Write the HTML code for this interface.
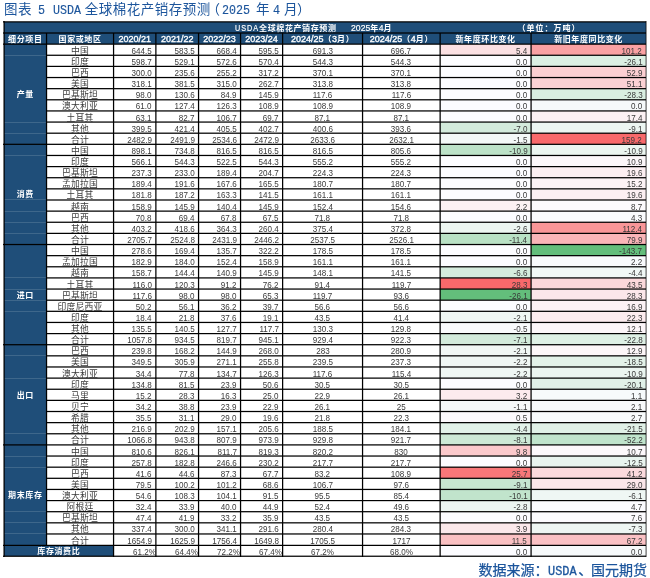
<!DOCTYPE html>
<html lang="zh-CN"><head><meta charset="utf-8"><title>USDA 全球棉花产销存预测</title>
<style>
html,body{margin:0;padding:0;background:#fff}
body{width:650px;height:578px;position:relative;overflow:hidden;font-family:"Liberation Sans","Noto Sans CJK SC",sans-serif}
.b,.t,.hl,.vl,.fl{position:absolute}
.hl{height:1px;background:#000}
.vl{width:1px;background:#000}
.fl{height:1px;background:rgba(255,255,255,.14)}
.t{font-size:9.5px;color:#3a3a3a;white-space:nowrap;box-sizing:border-box;overflow:visible}
.t span{display:inline-block;position:relative;top:1px}
.c{text-align:center}
.r{text-align:right;padding-right:3.9px}
.n span{transform:scaleX(.85);transform-origin:100% 50%}
.c.n span{transform-origin:50% 50%}
.r.p{padding-right:.4px}
.cj{font-size:8.8px;letter-spacing:.25px}
.cj span{top:2px}
.h{color:#fff;font-weight:bold;font-size:8px;letter-spacing:.6px}
.h span{top:1px}
.sec span{top:1px}
.h1 span{position:static;display:block}
.h1 i{position:absolute;font-style:normal;top:1.1px}
.h em{font-style:normal;font-weight:normal;font-size:9px;letter-spacing:0;-webkit-text-stroke:.35px #fff}
.h1 em{font-style:normal;font-weight:normal;font-size:8.6px;letter-spacing:0;-webkit-text-stroke:.2px #fff}
.h1 em.u{display:inline-block;font-size:9px;letter-spacing:1.3px;transform:scaleX(.8);transform-origin:0 50%}
#title,#foot{position:absolute;left:0;width:650px;white-space:nowrap;color:#1c559c;font-family:"Liberation Sans","Noto Sans CJK SC",sans-serif}
#title{top:-0.4px;height:19px;line-height:19px;font-size:13.5px;letter-spacing:.5px}
#foot{top:561px;height:19px;line-height:19px;font-size:14px;font-weight:400;-webkit-text-stroke:.25px #1c559c}
.s{position:absolute;top:0}
.s.l{font-family:"Liberation Mono",monospace;font-size:12.6px;letter-spacing:0;top:2.4px;transform:scaleX(.926);transform-origin:0 50%;-webkit-text-stroke:.15px #1c559c}
#foot .s.l{font-size:13.5px;transform:scaleX(.88);top:1px;-webkit-text-stroke:.35px #1c559c}
#wrap{position:absolute;left:0;top:0;width:650px;height:578px;will-change:transform}
</style></head><body><div id="wrap">
<div id="title"><span class="s " style="left:4px">图表</span><span class="s l" style="left:38.3px">5</span><span class="s l" style="left:52.5px">USDA</span><span class="s " style="left:84.7px">全球棉花产销存预测</span><span class="s " style="left:206.5px">（</span><span class="s l" style="left:222px">2025</span><span class="s " style="left:256px">年</span><span class="s l" style="left:273px">4</span><span class="s " style="left:284px">月</span><span class="s " style="left:297px">）</span></div>
<div class="b" style="left:4.10px;top:21.87px;width:642.00px;height:22.27px;background:#1f4e79"></div>
<div class="b" style="left:4.10px;top:44.14px;width:42.45px;height:501.26px;background:#1f4e79"></div>
<div class="b" style="left:4.10px;top:545.40px;width:109.46px;height:10.83px;background:#1f4e79"></div>
<div class="b" style="left:440.14px;top:44.14px;width:90.93px;height:11.13px;background:#fbe0e3"></div>
<div class="b" style="left:531.07px;top:44.14px;width:115.03px;height:11.13px;background:#faa1a3"></div>
<div class="b" style="left:440.14px;top:55.27px;width:90.93px;height:11.13px;background:#fcfcff"></div>
<div class="b" style="left:531.07px;top:55.27px;width:115.03px;height:11.13px;background:#dbefe3"></div>
<div class="b" style="left:440.14px;top:66.40px;width:90.93px;height:11.13px;background:#fcfcff"></div>
<div class="b" style="left:531.07px;top:66.40px;width:115.03px;height:11.13px;background:#fbcfd2"></div>
<div class="b" style="left:440.14px;top:77.53px;width:90.93px;height:11.13px;background:#fcfcff"></div>
<div class="b" style="left:531.07px;top:77.53px;width:115.03px;height:11.13px;background:#fbd1d4"></div>
<div class="b" style="left:440.14px;top:88.67px;width:90.93px;height:11.13px;background:#fcfcff"></div>
<div class="b" style="left:531.07px;top:88.67px;width:115.03px;height:11.13px;background:#d9eee1"></div>
<div class="b" style="left:440.14px;top:99.80px;width:90.93px;height:11.13px;background:#fcfcff"></div>
<div class="b" style="left:531.07px;top:99.80px;width:115.03px;height:11.13px;background:#f6f9fa"></div>
<div class="b" style="left:440.14px;top:110.93px;width:90.93px;height:11.13px;background:#fcfcff"></div>
<div class="b" style="left:531.07px;top:110.93px;width:115.03px;height:11.13px;background:#fcf1f4"></div>
<div class="b" style="left:440.14px;top:122.06px;width:90.93px;height:11.13px;background:#d3ebdc"></div>
<div class="b" style="left:531.07px;top:122.06px;width:115.03px;height:11.13px;background:#ecf6f2"></div>
<div class="b" style="left:440.14px;top:133.19px;width:90.93px;height:11.13px;background:#f3f8f7"></div>
<div class="b" style="left:531.07px;top:133.19px;width:115.03px;height:11.13px;background:#f8696b"></div>
<div class="b" style="left:440.14px;top:144.33px;width:90.93px;height:11.13px;background:#bce2c8"></div>
<div class="b" style="left:531.07px;top:144.33px;width:115.03px;height:11.13px;background:#ebf5f0"></div>
<div class="b" style="left:440.14px;top:155.46px;width:90.93px;height:11.13px;background:#fcfcff"></div>
<div class="b" style="left:531.07px;top:155.46px;width:115.03px;height:11.13px;background:#fcf7fa"></div>
<div class="b" style="left:440.14px;top:166.59px;width:90.93px;height:11.13px;background:#fcfcff"></div>
<div class="b" style="left:531.07px;top:166.59px;width:115.03px;height:11.13px;background:#fceff2"></div>
<div class="b" style="left:440.14px;top:177.73px;width:90.93px;height:11.13px;background:#fcfcff"></div>
<div class="b" style="left:531.07px;top:177.73px;width:115.03px;height:11.13px;background:#fcf3f6"></div>
<div class="b" style="left:440.14px;top:188.86px;width:90.93px;height:11.13px;background:#fcfcff"></div>
<div class="b" style="left:531.07px;top:188.86px;width:115.03px;height:11.13px;background:#fceff2"></div>
<div class="b" style="left:440.14px;top:199.99px;width:90.93px;height:11.13px;background:#fcf1f3"></div>
<div class="b" style="left:531.07px;top:199.99px;width:115.03px;height:11.13px;background:#fcfafd"></div>
<div class="b" style="left:440.14px;top:211.12px;width:90.93px;height:11.13px;background:#fcfcff"></div>
<div class="b" style="left:531.07px;top:211.12px;width:115.03px;height:11.13px;background:#fafbfd"></div>
<div class="b" style="left:440.14px;top:222.25px;width:90.93px;height:11.13px;background:#edf6f2"></div>
<div class="b" style="left:531.07px;top:222.25px;width:115.03px;height:11.13px;background:#f99698"></div>
<div class="b" style="left:440.14px;top:233.39px;width:90.93px;height:11.13px;background:#b9e1c5"></div>
<div class="b" style="left:531.07px;top:233.39px;width:115.03px;height:11.13px;background:#fab5b8"></div>
<div class="b" style="left:440.14px;top:244.52px;width:90.93px;height:11.13px;background:#fcfcff"></div>
<div class="b" style="left:531.07px;top:244.52px;width:115.03px;height:11.13px;background:#63be7b"></div>
<div class="b" style="left:440.14px;top:255.65px;width:90.93px;height:11.13px;background:#fcfcff"></div>
<div class="b" style="left:531.07px;top:255.65px;width:115.03px;height:11.13px;background:#f8fafc"></div>
<div class="b" style="left:440.14px;top:266.79px;width:90.93px;height:11.13px;background:#d5ecde"></div>
<div class="b" style="left:531.07px;top:266.79px;width:115.03px;height:11.13px;background:#f1f8f6"></div>
<div class="b" style="left:440.14px;top:277.92px;width:90.93px;height:11.13px;background:#f8696b"></div>
<div class="b" style="left:531.07px;top:277.92px;width:115.03px;height:11.13px;background:#fbd8db"></div>
<div class="b" style="left:440.14px;top:289.05px;width:90.93px;height:11.13px;background:#63be7b"></div>
<div class="b" style="left:531.07px;top:289.05px;width:115.03px;height:11.13px;background:#fbe7ea"></div>
<div class="b" style="left:440.14px;top:300.18px;width:90.93px;height:11.13px;background:#fcfcff"></div>
<div class="b" style="left:531.07px;top:300.18px;width:115.03px;height:11.13px;background:#fcf2f5"></div>
<div class="b" style="left:440.14px;top:311.31px;width:90.93px;height:11.13px;background:#f0f7f4"></div>
<div class="b" style="left:531.07px;top:311.31px;width:115.03px;height:11.13px;background:#fcecef"></div>
<div class="b" style="left:440.14px;top:322.45px;width:90.93px;height:11.13px;background:#f9fbfc"></div>
<div class="b" style="left:531.07px;top:322.45px;width:115.03px;height:11.13px;background:#fcf6f9"></div>
<div class="b" style="left:440.14px;top:333.58px;width:90.93px;height:11.13px;background:#d2ebdb"></div>
<div class="b" style="left:531.07px;top:333.58px;width:115.03px;height:11.13px;background:#def0e5"></div>
<div class="b" style="left:440.14px;top:344.71px;width:90.93px;height:11.13px;background:#f0f7f4"></div>
<div class="b" style="left:531.07px;top:344.71px;width:115.03px;height:11.13px;background:#fcf6f8"></div>
<div class="b" style="left:440.14px;top:355.85px;width:90.93px;height:11.13px;background:#eff7f4"></div>
<div class="b" style="left:531.07px;top:355.85px;width:115.03px;height:11.13px;background:#e3f2e9"></div>
<div class="b" style="left:440.14px;top:366.98px;width:90.93px;height:11.13px;background:#eff7f4"></div>
<div class="b" style="left:531.07px;top:366.98px;width:115.03px;height:11.13px;background:#ebf5f0"></div>
<div class="b" style="left:440.14px;top:378.11px;width:90.93px;height:11.13px;background:#fcfcff"></div>
<div class="b" style="left:531.07px;top:378.11px;width:115.03px;height:11.13px;background:#e1f1e8"></div>
<div class="b" style="left:440.14px;top:389.24px;width:90.93px;height:11.13px;background:#fcebee"></div>
<div class="b" style="left:531.07px;top:389.24px;width:115.03px;height:11.13px;background:#f7fafb"></div>
<div class="b" style="left:440.14px;top:400.38px;width:90.93px;height:11.13px;background:#f6f9f9"></div>
<div class="b" style="left:531.07px;top:400.38px;width:115.03px;height:11.13px;background:#f8fafb"></div>
<div class="b" style="left:440.14px;top:411.51px;width:90.93px;height:11.13px;background:#fcf9fc"></div>
<div class="b" style="left:531.07px;top:411.51px;width:115.03px;height:11.13px;background:#f8fbfc"></div>
<div class="b" style="left:440.14px;top:422.64px;width:90.93px;height:11.13px;background:#e2f2e9"></div>
<div class="b" style="left:531.07px;top:422.64px;width:115.03px;height:11.13px;background:#e0f1e7"></div>
<div class="b" style="left:440.14px;top:433.77px;width:90.93px;height:11.13px;background:#cde9d6"></div>
<div class="b" style="left:531.07px;top:433.77px;width:115.03px;height:11.13px;background:#c0e4cc"></div>
<div class="b" style="left:440.14px;top:444.91px;width:90.93px;height:11.13px;background:#fbc9cc"></div>
<div class="b" style="left:531.07px;top:444.91px;width:115.03px;height:11.13px;background:#fcf8fb"></div>
<div class="b" style="left:440.14px;top:456.04px;width:90.93px;height:11.13px;background:#fcfcff"></div>
<div class="b" style="left:531.07px;top:456.04px;width:115.03px;height:11.13px;background:#e9f4ef"></div>
<div class="b" style="left:440.14px;top:467.17px;width:90.93px;height:11.13px;background:#f87779"></div>
<div class="b" style="left:531.07px;top:467.17px;width:115.03px;height:11.13px;background:#fbdadd"></div>
<div class="b" style="left:440.14px;top:478.30px;width:90.93px;height:11.13px;background:#c7e6d1"></div>
<div class="b" style="left:531.07px;top:478.30px;width:115.03px;height:11.13px;background:#fbe6e9"></div>
<div class="b" style="left:440.14px;top:489.44px;width:90.93px;height:11.13px;background:#c1e4cc"></div>
<div class="b" style="left:531.07px;top:489.44px;width:115.03px;height:11.13px;background:#eff7f4"></div>
<div class="b" style="left:440.14px;top:500.57px;width:90.93px;height:11.13px;background:#ecf5f1"></div>
<div class="b" style="left:531.07px;top:500.57px;width:115.03px;height:11.13px;background:#fbfbfe"></div>
<div class="b" style="left:440.14px;top:511.70px;width:90.93px;height:11.13px;background:#fcfcff"></div>
<div class="b" style="left:531.07px;top:511.70px;width:115.03px;height:11.13px;background:#fcfbfe"></div>
<div class="b" style="left:440.14px;top:522.83px;width:90.93px;height:11.13px;background:#fbe8eb"></div>
<div class="b" style="left:531.07px;top:522.83px;width:115.03px;height:11.13px;background:#eef6f3"></div>
<div class="b" style="left:440.14px;top:533.97px;width:90.93px;height:11.43px;background:#fac0c3"></div>
<div class="b" style="left:531.07px;top:533.97px;width:115.03px;height:11.43px;background:#fac1c4"></div>
<div class="b" style="left:440.14px;top:545.40px;width:90.93px;height:10.83px;background:#fcfcff"></div>
<div class="b" style="left:531.07px;top:545.40px;width:115.03px;height:10.83px;background:#f6f9fa"></div>
<div class="fl" style="left:4.10px;top:55px;width:42.45px"></div>
<div class="fl" style="left:4.10px;top:122px;width:42.45px"></div>
<div class="fl" style="left:4.10px;top:133px;width:42.45px"></div>
<div class="fl" style="left:4.10px;top:155px;width:42.45px"></div>
<div class="fl" style="left:4.10px;top:199px;width:42.45px"></div>
<div class="fl" style="left:4.10px;top:211px;width:42.45px"></div>
<div class="fl" style="left:4.10px;top:222px;width:42.45px"></div>
<div class="fl" style="left:4.10px;top:233px;width:42.45px"></div>
<div class="fl" style="left:4.10px;top:277px;width:42.45px"></div>
<div class="fl" style="left:4.10px;top:289px;width:42.45px"></div>
<div class="fl" style="left:4.10px;top:300px;width:42.45px"></div>
<div class="fl" style="left:4.10px;top:311px;width:42.45px"></div>
<div class="fl" style="left:4.10px;top:355px;width:42.45px"></div>
<div class="fl" style="left:4.10px;top:378px;width:42.45px"></div>
<div class="fl" style="left:4.10px;top:433px;width:42.45px"></div>
<div class="fl" style="left:4.10px;top:456px;width:42.45px"></div>
<div class="fl" style="left:4.10px;top:467px;width:42.45px"></div>
<div class="fl" style="left:4.10px;top:511px;width:42.45px"></div>
<div class="fl" style="left:4.10px;top:522px;width:42.45px"></div>
<div class="fl" style="left:4.10px;top:533px;width:42.45px"></div>
<div class="hl" style="left:3px;top:21px;width:643px;opacity:0.75"></div>
<div class="hl" style="left:3px;top:22px;width:643px;opacity:0.50"></div>
<div class="hl" style="left:3px;top:32px;width:643px;opacity:0.62"></div>
<div class="hl" style="left:3px;top:33px;width:643px;opacity:0.63"></div>
<div class="hl" style="left:3px;top:43px;width:643px;opacity:0.49"></div>
<div class="hl" style="left:3px;top:44px;width:643px;opacity:0.76"></div>
<div class="hl" style="left:46px;top:54px;width:600px;opacity:0.36"></div>
<div class="hl" style="left:46px;top:55px;width:600px;opacity:0.89"></div>
<div class="hl" style="left:46px;top:65px;width:600px;opacity:0.22"></div>
<div class="hl" style="left:46px;top:66px;width:600px;opacity:1.00"></div>
<div class="hl" style="left:46px;top:76px;width:600px;opacity:0.09"></div>
<div class="hl" style="left:46px;top:77px;width:600px;opacity:1.00"></div>
<div class="hl" style="left:46px;top:78px;width:600px;opacity:0.16"></div>
<div class="hl" style="left:46px;top:88px;width:600px;opacity:0.96"></div>
<div class="hl" style="left:46px;top:89px;width:600px;opacity:0.29"></div>
<div class="hl" style="left:46px;top:99px;width:600px;opacity:0.83"></div>
<div class="hl" style="left:46px;top:100px;width:600px;opacity:0.42"></div>
<div class="hl" style="left:46px;top:110px;width:600px;opacity:0.69"></div>
<div class="hl" style="left:46px;top:111px;width:600px;opacity:0.56"></div>
<div class="hl" style="left:46px;top:121px;width:600px;opacity:0.56"></div>
<div class="hl" style="left:46px;top:122px;width:600px;opacity:0.69"></div>
<div class="hl" style="left:46px;top:132px;width:600px;opacity:0.43"></div>
<div class="hl" style="left:46px;top:133px;width:600px;opacity:0.82"></div>
<div class="hl" style="left:3px;top:143px;width:643px;opacity:0.30"></div>
<div class="hl" style="left:3px;top:144px;width:643px;opacity:0.95"></div>
<div class="hl" style="left:46px;top:154px;width:600px;opacity:0.16"></div>
<div class="hl" style="left:46px;top:155px;width:600px;opacity:1.00"></div>
<div class="hl" style="left:46px;top:156px;width:600px;opacity:0.09"></div>
<div class="hl" style="left:46px;top:166px;width:600px;opacity:1.00"></div>
<div class="hl" style="left:46px;top:167px;width:600px;opacity:0.22"></div>
<div class="hl" style="left:46px;top:177px;width:600px;opacity:0.90"></div>
<div class="hl" style="left:46px;top:178px;width:600px;opacity:0.35"></div>
<div class="hl" style="left:46px;top:188px;width:600px;opacity:0.77"></div>
<div class="hl" style="left:46px;top:189px;width:600px;opacity:0.48"></div>
<div class="hl" style="left:46px;top:199px;width:600px;opacity:0.63"></div>
<div class="hl" style="left:46px;top:200px;width:600px;opacity:0.62"></div>
<div class="hl" style="left:46px;top:210px;width:600px;opacity:0.50"></div>
<div class="hl" style="left:46px;top:211px;width:600px;opacity:0.75"></div>
<div class="hl" style="left:46px;top:221px;width:600px;opacity:0.37"></div>
<div class="hl" style="left:46px;top:222px;width:600px;opacity:0.88"></div>
<div class="hl" style="left:46px;top:232px;width:600px;opacity:0.24"></div>
<div class="hl" style="left:46px;top:233px;width:600px;opacity:1.00"></div>
<div class="hl" style="left:3px;top:243px;width:643px;opacity:0.10"></div>
<div class="hl" style="left:3px;top:244px;width:643px;opacity:1.00"></div>
<div class="hl" style="left:3px;top:245px;width:643px;opacity:0.15"></div>
<div class="hl" style="left:46px;top:255px;width:600px;opacity:0.97"></div>
<div class="hl" style="left:46px;top:256px;width:600px;opacity:0.28"></div>
<div class="hl" style="left:46px;top:266px;width:600px;opacity:0.84"></div>
<div class="hl" style="left:46px;top:267px;width:600px;opacity:0.41"></div>
<div class="hl" style="left:46px;top:277px;width:600px;opacity:0.71"></div>
<div class="hl" style="left:46px;top:278px;width:600px;opacity:0.54"></div>
<div class="hl" style="left:46px;top:288px;width:600px;opacity:0.57"></div>
<div class="hl" style="left:46px;top:289px;width:600px;opacity:0.68"></div>
<div class="hl" style="left:46px;top:299px;width:600px;opacity:0.44"></div>
<div class="hl" style="left:46px;top:300px;width:600px;opacity:0.81"></div>
<div class="hl" style="left:46px;top:310px;width:600px;opacity:0.31"></div>
<div class="hl" style="left:46px;top:311px;width:600px;opacity:0.94"></div>
<div class="hl" style="left:46px;top:321px;width:600px;opacity:0.18"></div>
<div class="hl" style="left:46px;top:322px;width:600px;opacity:1.00"></div>
<div class="hl" style="left:46px;top:323px;width:600px;opacity:0.07"></div>
<div class="hl" style="left:46px;top:333px;width:600px;opacity:1.00"></div>
<div class="hl" style="left:46px;top:334px;width:600px;opacity:0.21"></div>
<div class="hl" style="left:3px;top:344px;width:643px;opacity:0.91"></div>
<div class="hl" style="left:3px;top:345px;width:643px;opacity:0.34"></div>
<div class="hl" style="left:46px;top:355px;width:600px;opacity:0.78"></div>
<div class="hl" style="left:46px;top:356px;width:600px;opacity:0.47"></div>
<div class="hl" style="left:46px;top:366px;width:600px;opacity:0.65"></div>
<div class="hl" style="left:46px;top:367px;width:600px;opacity:0.60"></div>
<div class="hl" style="left:46px;top:377px;width:600px;opacity:0.51"></div>
<div class="hl" style="left:46px;top:378px;width:600px;opacity:0.74"></div>
<div class="hl" style="left:46px;top:388px;width:600px;opacity:0.38"></div>
<div class="hl" style="left:46px;top:389px;width:600px;opacity:0.87"></div>
<div class="hl" style="left:46px;top:399px;width:600px;opacity:0.25"></div>
<div class="hl" style="left:46px;top:400px;width:600px;opacity:1.00"></div>
<div class="hl" style="left:46px;top:410px;width:600px;opacity:0.12"></div>
<div class="hl" style="left:46px;top:411px;width:600px;opacity:1.00"></div>
<div class="hl" style="left:46px;top:412px;width:600px;opacity:0.13"></div>
<div class="hl" style="left:46px;top:422px;width:600px;opacity:0.99"></div>
<div class="hl" style="left:46px;top:423px;width:600px;opacity:0.26"></div>
<div class="hl" style="left:46px;top:433px;width:600px;opacity:0.85"></div>
<div class="hl" style="left:46px;top:434px;width:600px;opacity:0.40"></div>
<div class="hl" style="left:3px;top:444px;width:643px;opacity:0.72"></div>
<div class="hl" style="left:3px;top:445px;width:643px;opacity:0.53"></div>
<div class="hl" style="left:46px;top:455px;width:600px;opacity:0.59"></div>
<div class="hl" style="left:46px;top:456px;width:600px;opacity:0.66"></div>
<div class="hl" style="left:46px;top:466px;width:600px;opacity:0.45"></div>
<div class="hl" style="left:46px;top:467px;width:600px;opacity:0.80"></div>
<div class="hl" style="left:46px;top:477px;width:600px;opacity:0.32"></div>
<div class="hl" style="left:46px;top:478px;width:600px;opacity:0.93"></div>
<div class="hl" style="left:46px;top:488px;width:600px;opacity:0.19"></div>
<div class="hl" style="left:46px;top:489px;width:600px;opacity:1.00"></div>
<div class="hl" style="left:46px;top:490px;width:600px;opacity:0.06"></div>
<div class="hl" style="left:46px;top:500px;width:600px;opacity:1.00"></div>
<div class="hl" style="left:46px;top:501px;width:600px;opacity:0.19"></div>
<div class="hl" style="left:46px;top:511px;width:600px;opacity:0.92"></div>
<div class="hl" style="left:46px;top:512px;width:600px;opacity:0.33"></div>
<div class="hl" style="left:46px;top:522px;width:600px;opacity:0.79"></div>
<div class="hl" style="left:46px;top:523px;width:600px;opacity:0.46"></div>
<div class="hl" style="left:46px;top:533px;width:600px;opacity:0.66"></div>
<div class="hl" style="left:46px;top:534px;width:600px;opacity:0.59"></div>
<div class="hl" style="left:3px;top:544px;width:643px;opacity:0.23"></div>
<div class="hl" style="left:3px;top:545px;width:643px;opacity:1.00"></div>
<div class="hl" style="left:3px;top:555px;width:643px;opacity:0.39"></div>
<div class="hl" style="left:3px;top:556px;width:643px;opacity:0.86"></div>
<div class="vl" style="left:3px;top:21px;height:536px;opacity:0.53"></div>
<div class="vl" style="left:4px;top:21px;height:536px;opacity:0.72"></div>
<div class="vl" style="left:645px;top:21px;height:536px;opacity:0.31"></div>
<div class="vl" style="left:646px;top:21px;height:536px;opacity:0.44"></div>
<div class="vl" style="left:45px;top:33px;height:513px;opacity:0.08"></div>
<div class="vl" style="left:46px;top:33px;height:513px;opacity:1.00"></div>
<div class="vl" style="left:47px;top:33px;height:513px;opacity:0.17"></div>
<div class="vl" style="left:112px;top:33px;height:524px;opacity:0.06"></div>
<div class="vl" style="left:113px;top:33px;height:524px;opacity:1.00"></div>
<div class="vl" style="left:114px;top:33px;height:524px;opacity:0.19"></div>
<div class="vl" style="left:155px;top:33px;height:524px;opacity:0.75"></div>
<div class="vl" style="left:156px;top:33px;height:524px;opacity:0.50"></div>
<div class="vl" style="left:197px;top:33px;height:524px;opacity:0.07"></div>
<div class="vl" style="left:198px;top:33px;height:524px;opacity:1.00"></div>
<div class="vl" style="left:199px;top:33px;height:524px;opacity:0.18"></div>
<div class="vl" style="left:239px;top:33px;height:524px;opacity:0.07"></div>
<div class="vl" style="left:240px;top:33px;height:524px;opacity:1.00"></div>
<div class="vl" style="left:241px;top:33px;height:524px;opacity:0.18"></div>
<div class="vl" style="left:282px;top:33px;height:524px;opacity:1.00"></div>
<div class="vl" style="left:283px;top:33px;height:524px;opacity:0.25"></div>
<div class="vl" style="left:361px;top:33px;height:524px;opacity:0.07"></div>
<div class="vl" style="left:362px;top:33px;height:524px;opacity:1.00"></div>
<div class="vl" style="left:363px;top:33px;height:524px;opacity:0.18"></div>
<div class="vl" style="left:439px;top:33px;height:524px;opacity:0.49"></div>
<div class="vl" style="left:440px;top:33px;height:524px;opacity:0.76"></div>
<div class="vl" style="left:530px;top:33px;height:524px;opacity:0.55"></div>
<div class="vl" style="left:531px;top:33px;height:524px;opacity:0.70"></div>
<div class="t h h1" style="left:4.10px;top:21.87px;width:642.00px;height:11.13px;line-height:11.13px"><span><i style="left:230.8px"><em class="u">USDA</em></i><i style="left:255px">全球棉花产销存预测</i><i style="left:347px"><em>2025</em>年<em>4</em>月</i><i style="left:513.5px;letter-spacing:1px">（单位：万吨）</i></span></div>
<div class="t h c" style="left:4.10px;top:33.00px;width:42.45px;height:11.00px;line-height:11.00px"><span>细分项目</span></div>
<div class="t h c" style="left:46.55px;top:33.00px;width:67.01px;height:11.00px;line-height:11.00px"><span>国家或地区</span></div>
<div class="t h c" style="left:113.56px;top:33.00px;width:42.32px;height:11.00px;line-height:11.00px"><span><em>2020/21</em></span></div>
<div class="t h c" style="left:155.88px;top:33.00px;width:42.67px;height:11.00px;line-height:11.00px"><span><em>2021/22</em></span></div>
<div class="t h c" style="left:198.55px;top:33.00px;width:42.00px;height:11.00px;line-height:11.00px"><span><em>2022/23</em></span></div>
<div class="t h c" style="left:240.55px;top:33.00px;width:42.07px;height:11.00px;line-height:11.00px"><span><em>2023/24</em></span></div>
<div class="t h c" style="left:282.62px;top:33.00px;width:79.93px;height:11.00px;line-height:11.00px"><span><em>2024/25</em>（<em>3</em>月）</span></div>
<div class="t h c" style="left:362.55px;top:33.00px;width:77.59px;height:11.00px;line-height:11.00px"><span><em>2024/25</em>（<em>4</em>月）</span></div>
<div class="t h c" style="left:440.14px;top:33.00px;width:90.93px;height:11.00px;line-height:11.00px"><span>新年度环比变化</span></div>
<div class="t h c" style="left:531.07px;top:33.00px;width:115.03px;height:11.00px;line-height:11.00px"><span>新旧年度同比变化</span></div>
<div class="t h c sec" style="left:4.10px;top:44.14px;width:42.45px;height:100.19px;line-height:100.19px"><span>产量</span></div>
<div class="t c cj" style="left:46.55px;top:44.00px;width:67.01px;height:11.00px;line-height:11.00px"><span>中国</span></div>
<div class="t r n" style="left:113.56px;top:44.00px;width:42.32px;height:11.00px;line-height:11.00px"><span>644.5</span></div>
<div class="t r n" style="left:155.88px;top:44.00px;width:42.67px;height:11.00px;line-height:11.00px"><span>583.5</span></div>
<div class="t r n" style="left:198.55px;top:44.00px;width:42.00px;height:11.00px;line-height:11.00px"><span>668.4</span></div>
<div class="t r n" style="left:240.55px;top:44.00px;width:42.07px;height:11.00px;line-height:11.00px"><span>595.5</span></div>
<div class="t c n" style="left:282.62px;top:44.00px;width:79.93px;height:11.00px;line-height:11.00px"><span>691.3</span></div>
<div class="t c n" style="left:362.55px;top:44.00px;width:77.59px;height:11.00px;line-height:11.00px"><span>696.7</span></div>
<div class="t r n" style="left:440.14px;top:44.00px;width:90.93px;height:11.00px;line-height:11.00px"><span>5.4</span></div>
<div class="t r n" style="left:531.07px;top:44.00px;width:115.03px;height:11.00px;line-height:11.00px"><span>101.2</span></div>
<div class="t c cj" style="left:46.55px;top:55.00px;width:67.01px;height:11.00px;line-height:11.00px"><span>印度</span></div>
<div class="t r n" style="left:113.56px;top:55.00px;width:42.32px;height:11.00px;line-height:11.00px"><span>598.7</span></div>
<div class="t r n" style="left:155.88px;top:55.00px;width:42.67px;height:11.00px;line-height:11.00px"><span>529.1</span></div>
<div class="t r n" style="left:198.55px;top:55.00px;width:42.00px;height:11.00px;line-height:11.00px"><span>572.6</span></div>
<div class="t r n" style="left:240.55px;top:55.00px;width:42.07px;height:11.00px;line-height:11.00px"><span>570.4</span></div>
<div class="t c n" style="left:282.62px;top:55.00px;width:79.93px;height:11.00px;line-height:11.00px"><span>544.3</span></div>
<div class="t c n" style="left:362.55px;top:55.00px;width:77.59px;height:11.00px;line-height:11.00px"><span>544.3</span></div>
<div class="t r n" style="left:440.14px;top:55.00px;width:90.93px;height:11.00px;line-height:11.00px"><span>0.0</span></div>
<div class="t r n" style="left:531.07px;top:55.00px;width:115.03px;height:11.00px;line-height:11.00px"><span>-26.1</span></div>
<div class="t c cj" style="left:46.55px;top:66.00px;width:67.01px;height:11.00px;line-height:11.00px"><span>巴西</span></div>
<div class="t r n" style="left:113.56px;top:66.00px;width:42.32px;height:11.00px;line-height:11.00px"><span>300.0</span></div>
<div class="t r n" style="left:155.88px;top:66.00px;width:42.67px;height:11.00px;line-height:11.00px"><span>235.6</span></div>
<div class="t r n" style="left:198.55px;top:66.00px;width:42.00px;height:11.00px;line-height:11.00px"><span>255.2</span></div>
<div class="t r n" style="left:240.55px;top:66.00px;width:42.07px;height:11.00px;line-height:11.00px"><span>317.2</span></div>
<div class="t c n" style="left:282.62px;top:66.00px;width:79.93px;height:11.00px;line-height:11.00px"><span>370.1</span></div>
<div class="t c n" style="left:362.55px;top:66.00px;width:77.59px;height:11.00px;line-height:11.00px"><span>370.1</span></div>
<div class="t r n" style="left:440.14px;top:66.00px;width:90.93px;height:11.00px;line-height:11.00px"><span>0.0</span></div>
<div class="t r n" style="left:531.07px;top:66.00px;width:115.03px;height:11.00px;line-height:11.00px"><span>52.9</span></div>
<div class="t c cj" style="left:46.55px;top:77.00px;width:67.01px;height:11.00px;line-height:11.00px"><span>美国</span></div>
<div class="t r n" style="left:113.56px;top:77.00px;width:42.32px;height:11.00px;line-height:11.00px"><span>318.1</span></div>
<div class="t r n" style="left:155.88px;top:77.00px;width:42.67px;height:11.00px;line-height:11.00px"><span>381.5</span></div>
<div class="t r n" style="left:198.55px;top:77.00px;width:42.00px;height:11.00px;line-height:11.00px"><span>315.0</span></div>
<div class="t r n" style="left:240.55px;top:77.00px;width:42.07px;height:11.00px;line-height:11.00px"><span>262.7</span></div>
<div class="t c n" style="left:282.62px;top:77.00px;width:79.93px;height:11.00px;line-height:11.00px"><span>313.8</span></div>
<div class="t c n" style="left:362.55px;top:77.00px;width:77.59px;height:11.00px;line-height:11.00px"><span>313.8</span></div>
<div class="t r n" style="left:440.14px;top:77.00px;width:90.93px;height:11.00px;line-height:11.00px"><span>0.0</span></div>
<div class="t r n" style="left:531.07px;top:77.00px;width:115.03px;height:11.00px;line-height:11.00px"><span>51.1</span></div>
<div class="t c cj" style="left:46.55px;top:88.00px;width:67.01px;height:11.00px;line-height:11.00px"><span>巴基斯坦</span></div>
<div class="t r n" style="left:113.56px;top:88.00px;width:42.32px;height:11.00px;line-height:11.00px"><span>98.0</span></div>
<div class="t r n" style="left:155.88px;top:88.00px;width:42.67px;height:11.00px;line-height:11.00px"><span>130.6</span></div>
<div class="t r n" style="left:198.55px;top:88.00px;width:42.00px;height:11.00px;line-height:11.00px"><span>84.9</span></div>
<div class="t r n" style="left:240.55px;top:88.00px;width:42.07px;height:11.00px;line-height:11.00px"><span>145.9</span></div>
<div class="t c n" style="left:282.62px;top:88.00px;width:79.93px;height:11.00px;line-height:11.00px"><span>117.6</span></div>
<div class="t c n" style="left:362.55px;top:88.00px;width:77.59px;height:11.00px;line-height:11.00px"><span>117.6</span></div>
<div class="t r n" style="left:440.14px;top:88.00px;width:90.93px;height:11.00px;line-height:11.00px"><span>0.0</span></div>
<div class="t r n" style="left:531.07px;top:88.00px;width:115.03px;height:11.00px;line-height:11.00px"><span>-28.3</span></div>
<div class="t c cj" style="left:46.55px;top:99.00px;width:67.01px;height:11.00px;line-height:11.00px"><span>澳大利亚</span></div>
<div class="t r n" style="left:113.56px;top:99.00px;width:42.32px;height:11.00px;line-height:11.00px"><span>61.0</span></div>
<div class="t r n" style="left:155.88px;top:99.00px;width:42.67px;height:11.00px;line-height:11.00px"><span>127.4</span></div>
<div class="t r n" style="left:198.55px;top:99.00px;width:42.00px;height:11.00px;line-height:11.00px"><span>126.3</span></div>
<div class="t r n" style="left:240.55px;top:99.00px;width:42.07px;height:11.00px;line-height:11.00px"><span>108.9</span></div>
<div class="t c n" style="left:282.62px;top:99.00px;width:79.93px;height:11.00px;line-height:11.00px"><span>108.9</span></div>
<div class="t c n" style="left:362.55px;top:99.00px;width:77.59px;height:11.00px;line-height:11.00px"><span>108.9</span></div>
<div class="t r n" style="left:440.14px;top:99.00px;width:90.93px;height:11.00px;line-height:11.00px"><span>0.0</span></div>
<div class="t r n" style="left:531.07px;top:99.00px;width:115.03px;height:11.00px;line-height:11.00px"><span>0.0</span></div>
<div class="t c cj" style="left:46.55px;top:111.00px;width:67.01px;height:11.00px;line-height:11.00px"><span>土耳其</span></div>
<div class="t r n" style="left:113.56px;top:111.00px;width:42.32px;height:11.00px;line-height:11.00px"><span>63.1</span></div>
<div class="t r n" style="left:155.88px;top:111.00px;width:42.67px;height:11.00px;line-height:11.00px"><span>82.7</span></div>
<div class="t r n" style="left:198.55px;top:111.00px;width:42.00px;height:11.00px;line-height:11.00px"><span>106.7</span></div>
<div class="t r n" style="left:240.55px;top:111.00px;width:42.07px;height:11.00px;line-height:11.00px"><span>69.7</span></div>
<div class="t c n" style="left:282.62px;top:111.00px;width:79.93px;height:11.00px;line-height:11.00px"><span>87.1</span></div>
<div class="t c n" style="left:362.55px;top:111.00px;width:77.59px;height:11.00px;line-height:11.00px"><span>87.1</span></div>
<div class="t r n" style="left:440.14px;top:111.00px;width:90.93px;height:11.00px;line-height:11.00px"><span>0.0</span></div>
<div class="t r n" style="left:531.07px;top:111.00px;width:115.03px;height:11.00px;line-height:11.00px"><span>17.4</span></div>
<div class="t c cj" style="left:46.55px;top:122.00px;width:67.01px;height:11.00px;line-height:11.00px"><span>其他</span></div>
<div class="t r n" style="left:113.56px;top:122.00px;width:42.32px;height:11.00px;line-height:11.00px"><span>399.5</span></div>
<div class="t r n" style="left:155.88px;top:122.00px;width:42.67px;height:11.00px;line-height:11.00px"><span>421.4</span></div>
<div class="t r n" style="left:198.55px;top:122.00px;width:42.00px;height:11.00px;line-height:11.00px"><span>405.5</span></div>
<div class="t r n" style="left:240.55px;top:122.00px;width:42.07px;height:11.00px;line-height:11.00px"><span>402.7</span></div>
<div class="t c n" style="left:282.62px;top:122.00px;width:79.93px;height:11.00px;line-height:11.00px"><span>400.6</span></div>
<div class="t c n" style="left:362.55px;top:122.00px;width:77.59px;height:11.00px;line-height:11.00px"><span>393.6</span></div>
<div class="t r n" style="left:440.14px;top:122.00px;width:90.93px;height:11.00px;line-height:11.00px"><span>-7.0</span></div>
<div class="t r n" style="left:531.07px;top:122.00px;width:115.03px;height:11.00px;line-height:11.00px"><span>-9.1</span></div>
<div class="t c cj" style="left:46.55px;top:133.00px;width:67.01px;height:11.00px;line-height:11.00px"><span>合计</span></div>
<div class="t r n" style="left:113.56px;top:133.00px;width:42.32px;height:11.00px;line-height:11.00px"><span>2482.9</span></div>
<div class="t r n" style="left:155.88px;top:133.00px;width:42.67px;height:11.00px;line-height:11.00px"><span>2491.9</span></div>
<div class="t r n" style="left:198.55px;top:133.00px;width:42.00px;height:11.00px;line-height:11.00px"><span>2534.6</span></div>
<div class="t r n" style="left:240.55px;top:133.00px;width:42.07px;height:11.00px;line-height:11.00px"><span>2472.9</span></div>
<div class="t c n" style="left:282.62px;top:133.00px;width:79.93px;height:11.00px;line-height:11.00px"><span>2633.6</span></div>
<div class="t c n" style="left:362.55px;top:133.00px;width:77.59px;height:11.00px;line-height:11.00px"><span>2632.1</span></div>
<div class="t r n" style="left:440.14px;top:133.00px;width:90.93px;height:11.00px;line-height:11.00px"><span>-1.5</span></div>
<div class="t r n" style="left:531.07px;top:133.00px;width:115.03px;height:11.00px;line-height:11.00px"><span>159.2</span></div>
<div class="t h c sec" style="left:4.10px;top:144.33px;width:42.45px;height:100.19px;line-height:100.19px"><span>消费</span></div>
<div class="t c cj" style="left:46.55px;top:144.00px;width:67.01px;height:11.00px;line-height:11.00px"><span>中国</span></div>
<div class="t r n" style="left:113.56px;top:144.00px;width:42.32px;height:11.00px;line-height:11.00px"><span>898.1</span></div>
<div class="t r n" style="left:155.88px;top:144.00px;width:42.67px;height:11.00px;line-height:11.00px"><span>734.8</span></div>
<div class="t r n" style="left:198.55px;top:144.00px;width:42.00px;height:11.00px;line-height:11.00px"><span>816.5</span></div>
<div class="t r n" style="left:240.55px;top:144.00px;width:42.07px;height:11.00px;line-height:11.00px"><span>816.5</span></div>
<div class="t c n" style="left:282.62px;top:144.00px;width:79.93px;height:11.00px;line-height:11.00px"><span>816.5</span></div>
<div class="t c n" style="left:362.55px;top:144.00px;width:77.59px;height:11.00px;line-height:11.00px"><span>805.6</span></div>
<div class="t r n" style="left:440.14px;top:144.00px;width:90.93px;height:11.00px;line-height:11.00px"><span>-10.9</span></div>
<div class="t r n" style="left:531.07px;top:144.00px;width:115.03px;height:11.00px;line-height:11.00px"><span>-10.9</span></div>
<div class="t c cj" style="left:46.55px;top:155.00px;width:67.01px;height:11.00px;line-height:11.00px"><span>印度</span></div>
<div class="t r n" style="left:113.56px;top:155.00px;width:42.32px;height:11.00px;line-height:11.00px"><span>566.1</span></div>
<div class="t r n" style="left:155.88px;top:155.00px;width:42.67px;height:11.00px;line-height:11.00px"><span>544.3</span></div>
<div class="t r n" style="left:198.55px;top:155.00px;width:42.00px;height:11.00px;line-height:11.00px"><span>522.5</span></div>
<div class="t r n" style="left:240.55px;top:155.00px;width:42.07px;height:11.00px;line-height:11.00px"><span>544.3</span></div>
<div class="t c n" style="left:282.62px;top:155.00px;width:79.93px;height:11.00px;line-height:11.00px"><span>555.2</span></div>
<div class="t c n" style="left:362.55px;top:155.00px;width:77.59px;height:11.00px;line-height:11.00px"><span>555.2</span></div>
<div class="t r n" style="left:440.14px;top:155.00px;width:90.93px;height:11.00px;line-height:11.00px"><span>0.0</span></div>
<div class="t r n" style="left:531.07px;top:155.00px;width:115.03px;height:11.00px;line-height:11.00px"><span>10.9</span></div>
<div class="t c cj" style="left:46.55px;top:166.00px;width:67.01px;height:11.00px;line-height:11.00px"><span>巴基斯坦</span></div>
<div class="t r n" style="left:113.56px;top:166.00px;width:42.32px;height:11.00px;line-height:11.00px"><span>237.3</span></div>
<div class="t r n" style="left:155.88px;top:166.00px;width:42.67px;height:11.00px;line-height:11.00px"><span>233.0</span></div>
<div class="t r n" style="left:198.55px;top:166.00px;width:42.00px;height:11.00px;line-height:11.00px"><span>189.4</span></div>
<div class="t r n" style="left:240.55px;top:166.00px;width:42.07px;height:11.00px;line-height:11.00px"><span>204.7</span></div>
<div class="t c n" style="left:282.62px;top:166.00px;width:79.93px;height:11.00px;line-height:11.00px"><span>224.3</span></div>
<div class="t c n" style="left:362.55px;top:166.00px;width:77.59px;height:11.00px;line-height:11.00px"><span>224.3</span></div>
<div class="t r n" style="left:440.14px;top:166.00px;width:90.93px;height:11.00px;line-height:11.00px"><span>0.0</span></div>
<div class="t r n" style="left:531.07px;top:166.00px;width:115.03px;height:11.00px;line-height:11.00px"><span>19.6</span></div>
<div class="t c cj" style="left:46.55px;top:177.00px;width:67.01px;height:11.00px;line-height:11.00px"><span>孟加拉国</span></div>
<div class="t r n" style="left:113.56px;top:177.00px;width:42.32px;height:11.00px;line-height:11.00px"><span>189.4</span></div>
<div class="t r n" style="left:155.88px;top:177.00px;width:42.67px;height:11.00px;line-height:11.00px"><span>191.6</span></div>
<div class="t r n" style="left:198.55px;top:177.00px;width:42.00px;height:11.00px;line-height:11.00px"><span>167.6</span></div>
<div class="t r n" style="left:240.55px;top:177.00px;width:42.07px;height:11.00px;line-height:11.00px"><span>165.5</span></div>
<div class="t c n" style="left:282.62px;top:177.00px;width:79.93px;height:11.00px;line-height:11.00px"><span>180.7</span></div>
<div class="t c n" style="left:362.55px;top:177.00px;width:77.59px;height:11.00px;line-height:11.00px"><span>180.7</span></div>
<div class="t r n" style="left:440.14px;top:177.00px;width:90.93px;height:11.00px;line-height:11.00px"><span>0.0</span></div>
<div class="t r n" style="left:531.07px;top:177.00px;width:115.03px;height:11.00px;line-height:11.00px"><span>15.2</span></div>
<div class="t c cj" style="left:46.55px;top:188.00px;width:67.01px;height:11.00px;line-height:11.00px"><span>土耳其</span></div>
<div class="t r n" style="left:113.56px;top:188.00px;width:42.32px;height:11.00px;line-height:11.00px"><span>181.8</span></div>
<div class="t r n" style="left:155.88px;top:188.00px;width:42.67px;height:11.00px;line-height:11.00px"><span>187.2</span></div>
<div class="t r n" style="left:198.55px;top:188.00px;width:42.00px;height:11.00px;line-height:11.00px"><span>163.3</span></div>
<div class="t r n" style="left:240.55px;top:188.00px;width:42.07px;height:11.00px;line-height:11.00px"><span>141.5</span></div>
<div class="t c n" style="left:282.62px;top:188.00px;width:79.93px;height:11.00px;line-height:11.00px"><span>161.1</span></div>
<div class="t c n" style="left:362.55px;top:188.00px;width:77.59px;height:11.00px;line-height:11.00px"><span>161.1</span></div>
<div class="t r n" style="left:440.14px;top:188.00px;width:90.93px;height:11.00px;line-height:11.00px"><span>0.0</span></div>
<div class="t r n" style="left:531.07px;top:188.00px;width:115.03px;height:11.00px;line-height:11.00px"><span>19.6</span></div>
<div class="t c cj" style="left:46.55px;top:200.00px;width:67.01px;height:11.00px;line-height:11.00px"><span>越南</span></div>
<div class="t r n" style="left:113.56px;top:200.00px;width:42.32px;height:11.00px;line-height:11.00px"><span>158.9</span></div>
<div class="t r n" style="left:155.88px;top:200.00px;width:42.67px;height:11.00px;line-height:11.00px"><span>145.9</span></div>
<div class="t r n" style="left:198.55px;top:200.00px;width:42.00px;height:11.00px;line-height:11.00px"><span>140.4</span></div>
<div class="t r n" style="left:240.55px;top:200.00px;width:42.07px;height:11.00px;line-height:11.00px"><span>145.9</span></div>
<div class="t c n" style="left:282.62px;top:200.00px;width:79.93px;height:11.00px;line-height:11.00px"><span>152.4</span></div>
<div class="t c n" style="left:362.55px;top:200.00px;width:77.59px;height:11.00px;line-height:11.00px"><span>154.6</span></div>
<div class="t r n" style="left:440.14px;top:200.00px;width:90.93px;height:11.00px;line-height:11.00px"><span>2.2</span></div>
<div class="t r n" style="left:531.07px;top:200.00px;width:115.03px;height:11.00px;line-height:11.00px"><span>8.7</span></div>
<div class="t c cj" style="left:46.55px;top:211.00px;width:67.01px;height:11.00px;line-height:11.00px"><span>巴西</span></div>
<div class="t r n" style="left:113.56px;top:211.00px;width:42.32px;height:11.00px;line-height:11.00px"><span>70.8</span></div>
<div class="t r n" style="left:155.88px;top:211.00px;width:42.67px;height:11.00px;line-height:11.00px"><span>69.4</span></div>
<div class="t r n" style="left:198.55px;top:211.00px;width:42.00px;height:11.00px;line-height:11.00px"><span>67.8</span></div>
<div class="t r n" style="left:240.55px;top:211.00px;width:42.07px;height:11.00px;line-height:11.00px"><span>67.5</span></div>
<div class="t c n" style="left:282.62px;top:211.00px;width:79.93px;height:11.00px;line-height:11.00px"><span>71.8</span></div>
<div class="t c n" style="left:362.55px;top:211.00px;width:77.59px;height:11.00px;line-height:11.00px"><span>71.8</span></div>
<div class="t r n" style="left:440.14px;top:211.00px;width:90.93px;height:11.00px;line-height:11.00px"><span>0.0</span></div>
<div class="t r n" style="left:531.07px;top:211.00px;width:115.03px;height:11.00px;line-height:11.00px"><span>4.3</span></div>
<div class="t c cj" style="left:46.55px;top:222.00px;width:67.01px;height:11.00px;line-height:11.00px"><span>其他</span></div>
<div class="t r n" style="left:113.56px;top:222.00px;width:42.32px;height:11.00px;line-height:11.00px"><span>403.2</span></div>
<div class="t r n" style="left:155.88px;top:222.00px;width:42.67px;height:11.00px;line-height:11.00px"><span>418.6</span></div>
<div class="t r n" style="left:198.55px;top:222.00px;width:42.00px;height:11.00px;line-height:11.00px"><span>364.3</span></div>
<div class="t r n" style="left:240.55px;top:222.00px;width:42.07px;height:11.00px;line-height:11.00px"><span>260.4</span></div>
<div class="t c n" style="left:282.62px;top:222.00px;width:79.93px;height:11.00px;line-height:11.00px"><span>375.4</span></div>
<div class="t c n" style="left:362.55px;top:222.00px;width:77.59px;height:11.00px;line-height:11.00px"><span>372.8</span></div>
<div class="t r n" style="left:440.14px;top:222.00px;width:90.93px;height:11.00px;line-height:11.00px"><span>-2.6</span></div>
<div class="t r n" style="left:531.07px;top:222.00px;width:115.03px;height:11.00px;line-height:11.00px"><span>112.4</span></div>
<div class="t c cj" style="left:46.55px;top:233.00px;width:67.01px;height:11.00px;line-height:11.00px"><span>合计</span></div>
<div class="t r n" style="left:113.56px;top:233.00px;width:42.32px;height:11.00px;line-height:11.00px"><span>2705.7</span></div>
<div class="t r n" style="left:155.88px;top:233.00px;width:42.67px;height:11.00px;line-height:11.00px"><span>2524.8</span></div>
<div class="t r n" style="left:198.55px;top:233.00px;width:42.00px;height:11.00px;line-height:11.00px"><span>2431.9</span></div>
<div class="t r n" style="left:240.55px;top:233.00px;width:42.07px;height:11.00px;line-height:11.00px"><span>2446.2</span></div>
<div class="t c n" style="left:282.62px;top:233.00px;width:79.93px;height:11.00px;line-height:11.00px"><span>2537.5</span></div>
<div class="t c n" style="left:362.55px;top:233.00px;width:77.59px;height:11.00px;line-height:11.00px"><span>2526.1</span></div>
<div class="t r n" style="left:440.14px;top:233.00px;width:90.93px;height:11.00px;line-height:11.00px"><span>-11.4</span></div>
<div class="t r n" style="left:531.07px;top:233.00px;width:115.03px;height:11.00px;line-height:11.00px"><span>79.9</span></div>
<div class="t h c sec" style="left:4.10px;top:244.52px;width:42.45px;height:100.19px;line-height:100.19px"><span>进口</span></div>
<div class="t c cj" style="left:46.55px;top:244.00px;width:67.01px;height:11.00px;line-height:11.00px"><span>中国</span></div>
<div class="t r n" style="left:113.56px;top:244.00px;width:42.32px;height:11.00px;line-height:11.00px"><span>278.6</span></div>
<div class="t r n" style="left:155.88px;top:244.00px;width:42.67px;height:11.00px;line-height:11.00px"><span>169.4</span></div>
<div class="t r n" style="left:198.55px;top:244.00px;width:42.00px;height:11.00px;line-height:11.00px"><span>135.7</span></div>
<div class="t r n" style="left:240.55px;top:244.00px;width:42.07px;height:11.00px;line-height:11.00px"><span>322.2</span></div>
<div class="t c n" style="left:282.62px;top:244.00px;width:79.93px;height:11.00px;line-height:11.00px"><span>178.5</span></div>
<div class="t c n" style="left:362.55px;top:244.00px;width:77.59px;height:11.00px;line-height:11.00px"><span>178.5</span></div>
<div class="t r n" style="left:440.14px;top:244.00px;width:90.93px;height:11.00px;line-height:11.00px"><span>0.0</span></div>
<div class="t r n" style="left:531.07px;top:244.00px;width:115.03px;height:11.00px;line-height:11.00px"><span>-143.7</span></div>
<div class="t c cj" style="left:46.55px;top:255.00px;width:67.01px;height:11.00px;line-height:11.00px"><span>孟加拉国</span></div>
<div class="t r n" style="left:113.56px;top:255.00px;width:42.32px;height:11.00px;line-height:11.00px"><span>182.9</span></div>
<div class="t r n" style="left:155.88px;top:255.00px;width:42.67px;height:11.00px;line-height:11.00px"><span>184.0</span></div>
<div class="t r n" style="left:198.55px;top:255.00px;width:42.00px;height:11.00px;line-height:11.00px"><span>152.4</span></div>
<div class="t r n" style="left:240.55px;top:255.00px;width:42.07px;height:11.00px;line-height:11.00px"><span>158.9</span></div>
<div class="t c n" style="left:282.62px;top:255.00px;width:79.93px;height:11.00px;line-height:11.00px"><span>161.1</span></div>
<div class="t c n" style="left:362.55px;top:255.00px;width:77.59px;height:11.00px;line-height:11.00px"><span>161.1</span></div>
<div class="t r n" style="left:440.14px;top:255.00px;width:90.93px;height:11.00px;line-height:11.00px"><span>0.0</span></div>
<div class="t r n" style="left:531.07px;top:255.00px;width:115.03px;height:11.00px;line-height:11.00px"><span>2.2</span></div>
<div class="t c cj" style="left:46.55px;top:266.00px;width:67.01px;height:11.00px;line-height:11.00px"><span>越南</span></div>
<div class="t r n" style="left:113.56px;top:266.00px;width:42.32px;height:11.00px;line-height:11.00px"><span>158.7</span></div>
<div class="t r n" style="left:155.88px;top:266.00px;width:42.67px;height:11.00px;line-height:11.00px"><span>144.4</span></div>
<div class="t r n" style="left:198.55px;top:266.00px;width:42.00px;height:11.00px;line-height:11.00px"><span>140.9</span></div>
<div class="t r n" style="left:240.55px;top:266.00px;width:42.07px;height:11.00px;line-height:11.00px"><span>145.9</span></div>
<div class="t c n" style="left:282.62px;top:266.00px;width:79.93px;height:11.00px;line-height:11.00px"><span>148.1</span></div>
<div class="t c n" style="left:362.55px;top:266.00px;width:77.59px;height:11.00px;line-height:11.00px"><span>141.5</span></div>
<div class="t r n" style="left:440.14px;top:266.00px;width:90.93px;height:11.00px;line-height:11.00px"><span>-6.6</span></div>
<div class="t r n" style="left:531.07px;top:266.00px;width:115.03px;height:11.00px;line-height:11.00px"><span>-4.4</span></div>
<div class="t c cj" style="left:46.55px;top:278.00px;width:67.01px;height:11.00px;line-height:11.00px"><span>土耳其</span></div>
<div class="t r n" style="left:113.56px;top:278.00px;width:42.32px;height:11.00px;line-height:11.00px"><span>116.0</span></div>
<div class="t r n" style="left:155.88px;top:278.00px;width:42.67px;height:11.00px;line-height:11.00px"><span>120.3</span></div>
<div class="t r n" style="left:198.55px;top:278.00px;width:42.00px;height:11.00px;line-height:11.00px"><span>91.2</span></div>
<div class="t r n" style="left:240.55px;top:278.00px;width:42.07px;height:11.00px;line-height:11.00px"><span>76.2</span></div>
<div class="t c n" style="left:282.62px;top:278.00px;width:79.93px;height:11.00px;line-height:11.00px"><span>91.4</span></div>
<div class="t c n" style="left:362.55px;top:278.00px;width:77.59px;height:11.00px;line-height:11.00px"><span>119.7</span></div>
<div class="t r n" style="left:440.14px;top:278.00px;width:90.93px;height:11.00px;line-height:11.00px"><span>28.3</span></div>
<div class="t r n" style="left:531.07px;top:278.00px;width:115.03px;height:11.00px;line-height:11.00px"><span>43.5</span></div>
<div class="t c cj" style="left:46.55px;top:289.00px;width:67.01px;height:11.00px;line-height:11.00px"><span>巴基斯坦</span></div>
<div class="t r n" style="left:113.56px;top:289.00px;width:42.32px;height:11.00px;line-height:11.00px"><span>117.6</span></div>
<div class="t r n" style="left:155.88px;top:289.00px;width:42.67px;height:11.00px;line-height:11.00px"><span>98.0</span></div>
<div class="t r n" style="left:198.55px;top:289.00px;width:42.00px;height:11.00px;line-height:11.00px"><span>98.0</span></div>
<div class="t r n" style="left:240.55px;top:289.00px;width:42.07px;height:11.00px;line-height:11.00px"><span>65.3</span></div>
<div class="t c n" style="left:282.62px;top:289.00px;width:79.93px;height:11.00px;line-height:11.00px"><span>119.7</span></div>
<div class="t c n" style="left:362.55px;top:289.00px;width:77.59px;height:11.00px;line-height:11.00px"><span>93.6</span></div>
<div class="t r n" style="left:440.14px;top:289.00px;width:90.93px;height:11.00px;line-height:11.00px"><span>-26.1</span></div>
<div class="t r n" style="left:531.07px;top:289.00px;width:115.03px;height:11.00px;line-height:11.00px"><span>28.3</span></div>
<div class="t c cj" style="left:46.55px;top:300.00px;width:67.01px;height:11.00px;line-height:11.00px"><span>印度尼西亚</span></div>
<div class="t r n" style="left:113.56px;top:300.00px;width:42.32px;height:11.00px;line-height:11.00px"><span>50.2</span></div>
<div class="t r n" style="left:155.88px;top:300.00px;width:42.67px;height:11.00px;line-height:11.00px"><span>56.1</span></div>
<div class="t r n" style="left:198.55px;top:300.00px;width:42.00px;height:11.00px;line-height:11.00px"><span>36.2</span></div>
<div class="t r n" style="left:240.55px;top:300.00px;width:42.07px;height:11.00px;line-height:11.00px"><span>39.7</span></div>
<div class="t c n" style="left:282.62px;top:300.00px;width:79.93px;height:11.00px;line-height:11.00px"><span>56.6</span></div>
<div class="t c n" style="left:362.55px;top:300.00px;width:77.59px;height:11.00px;line-height:11.00px"><span>56.6</span></div>
<div class="t r n" style="left:440.14px;top:300.00px;width:90.93px;height:11.00px;line-height:11.00px"><span>0.0</span></div>
<div class="t r n" style="left:531.07px;top:300.00px;width:115.03px;height:11.00px;line-height:11.00px"><span>16.9</span></div>
<div class="t c cj" style="left:46.55px;top:311.00px;width:67.01px;height:11.00px;line-height:11.00px"><span>印度</span></div>
<div class="t r n" style="left:113.56px;top:311.00px;width:42.32px;height:11.00px;line-height:11.00px"><span>18.4</span></div>
<div class="t r n" style="left:155.88px;top:311.00px;width:42.67px;height:11.00px;line-height:11.00px"><span>21.8</span></div>
<div class="t r n" style="left:198.55px;top:311.00px;width:42.00px;height:11.00px;line-height:11.00px"><span>37.6</span></div>
<div class="t r n" style="left:240.55px;top:311.00px;width:42.07px;height:11.00px;line-height:11.00px"><span>19.1</span></div>
<div class="t c n" style="left:282.62px;top:311.00px;width:79.93px;height:11.00px;line-height:11.00px"><span>43.5</span></div>
<div class="t c n" style="left:362.55px;top:311.00px;width:77.59px;height:11.00px;line-height:11.00px"><span>41.4</span></div>
<div class="t r n" style="left:440.14px;top:311.00px;width:90.93px;height:11.00px;line-height:11.00px"><span>-2.1</span></div>
<div class="t r n" style="left:531.07px;top:311.00px;width:115.03px;height:11.00px;line-height:11.00px"><span>22.3</span></div>
<div class="t c cj" style="left:46.55px;top:322.00px;width:67.01px;height:11.00px;line-height:11.00px"><span>其他</span></div>
<div class="t r n" style="left:113.56px;top:322.00px;width:42.32px;height:11.00px;line-height:11.00px"><span>135.5</span></div>
<div class="t r n" style="left:155.88px;top:322.00px;width:42.67px;height:11.00px;line-height:11.00px"><span>140.5</span></div>
<div class="t r n" style="left:198.55px;top:322.00px;width:42.00px;height:11.00px;line-height:11.00px"><span>127.7</span></div>
<div class="t r n" style="left:240.55px;top:322.00px;width:42.07px;height:11.00px;line-height:11.00px"><span>117.7</span></div>
<div class="t c n" style="left:282.62px;top:322.00px;width:79.93px;height:11.00px;line-height:11.00px"><span>130.3</span></div>
<div class="t c n" style="left:362.55px;top:322.00px;width:77.59px;height:11.00px;line-height:11.00px"><span>129.8</span></div>
<div class="t r n" style="left:440.14px;top:322.00px;width:90.93px;height:11.00px;line-height:11.00px"><span>-0.5</span></div>
<div class="t r n" style="left:531.07px;top:322.00px;width:115.03px;height:11.00px;line-height:11.00px"><span>12.1</span></div>
<div class="t c cj" style="left:46.55px;top:333.00px;width:67.01px;height:11.00px;line-height:11.00px"><span>合计</span></div>
<div class="t r n" style="left:113.56px;top:333.00px;width:42.32px;height:11.00px;line-height:11.00px"><span>1057.8</span></div>
<div class="t r n" style="left:155.88px;top:333.00px;width:42.67px;height:11.00px;line-height:11.00px"><span>934.5</span></div>
<div class="t r n" style="left:198.55px;top:333.00px;width:42.00px;height:11.00px;line-height:11.00px"><span>819.7</span></div>
<div class="t r n" style="left:240.55px;top:333.00px;width:42.07px;height:11.00px;line-height:11.00px"><span>945.1</span></div>
<div class="t c n" style="left:282.62px;top:333.00px;width:79.93px;height:11.00px;line-height:11.00px"><span>929.4</span></div>
<div class="t c n" style="left:362.55px;top:333.00px;width:77.59px;height:11.00px;line-height:11.00px"><span>922.3</span></div>
<div class="t r n" style="left:440.14px;top:333.00px;width:90.93px;height:11.00px;line-height:11.00px"><span>-7.1</span></div>
<div class="t r n" style="left:531.07px;top:333.00px;width:115.03px;height:11.00px;line-height:11.00px"><span>-22.8</span></div>
<div class="t h c sec" style="left:4.10px;top:344.71px;width:42.45px;height:100.19px;line-height:100.19px"><span>出口</span></div>
<div class="t c cj" style="left:46.55px;top:344.00px;width:67.01px;height:11.00px;line-height:11.00px"><span>巴西</span></div>
<div class="t r n" style="left:113.56px;top:344.00px;width:42.32px;height:11.00px;line-height:11.00px"><span>239.8</span></div>
<div class="t r n" style="left:155.88px;top:344.00px;width:42.67px;height:11.00px;line-height:11.00px"><span>168.2</span></div>
<div class="t r n" style="left:198.55px;top:344.00px;width:42.00px;height:11.00px;line-height:11.00px"><span>144.9</span></div>
<div class="t r n" style="left:240.55px;top:344.00px;width:42.07px;height:11.00px;line-height:11.00px"><span>268.0</span></div>
<div class="t c n" style="left:282.62px;top:344.00px;width:79.93px;height:11.00px;line-height:11.00px"><span>283</span></div>
<div class="t c n" style="left:362.55px;top:344.00px;width:77.59px;height:11.00px;line-height:11.00px"><span>280.9</span></div>
<div class="t r n" style="left:440.14px;top:344.00px;width:90.93px;height:11.00px;line-height:11.00px"><span>-2.1</span></div>
<div class="t r n" style="left:531.07px;top:344.00px;width:115.03px;height:11.00px;line-height:11.00px"><span>12.9</span></div>
<div class="t c cj" style="left:46.55px;top:355.00px;width:67.01px;height:11.00px;line-height:11.00px"><span>美国</span></div>
<div class="t r n" style="left:113.56px;top:355.00px;width:42.32px;height:11.00px;line-height:11.00px"><span>349.5</span></div>
<div class="t r n" style="left:155.88px;top:355.00px;width:42.67px;height:11.00px;line-height:11.00px"><span>305.9</span></div>
<div class="t r n" style="left:198.55px;top:355.00px;width:42.00px;height:11.00px;line-height:11.00px"><span>271.1</span></div>
<div class="t r n" style="left:240.55px;top:355.00px;width:42.07px;height:11.00px;line-height:11.00px"><span>255.8</span></div>
<div class="t c n" style="left:282.62px;top:355.00px;width:79.93px;height:11.00px;line-height:11.00px"><span>239.5</span></div>
<div class="t c n" style="left:362.55px;top:355.00px;width:77.59px;height:11.00px;line-height:11.00px"><span>237.3</span></div>
<div class="t r n" style="left:440.14px;top:355.00px;width:90.93px;height:11.00px;line-height:11.00px"><span>-2.2</span></div>
<div class="t r n" style="left:531.07px;top:355.00px;width:115.03px;height:11.00px;line-height:11.00px"><span>-18.5</span></div>
<div class="t c cj" style="left:46.55px;top:367.00px;width:67.01px;height:11.00px;line-height:11.00px"><span>澳大利亚</span></div>
<div class="t r n" style="left:113.56px;top:367.00px;width:42.32px;height:11.00px;line-height:11.00px"><span>34.4</span></div>
<div class="t r n" style="left:155.88px;top:367.00px;width:42.67px;height:11.00px;line-height:11.00px"><span>77.8</span></div>
<div class="t r n" style="left:198.55px;top:367.00px;width:42.00px;height:11.00px;line-height:11.00px"><span>134.7</span></div>
<div class="t r n" style="left:240.55px;top:367.00px;width:42.07px;height:11.00px;line-height:11.00px"><span>126.3</span></div>
<div class="t c n" style="left:282.62px;top:367.00px;width:79.93px;height:11.00px;line-height:11.00px"><span>117.6</span></div>
<div class="t c n" style="left:362.55px;top:367.00px;width:77.59px;height:11.00px;line-height:11.00px"><span>115.4</span></div>
<div class="t r n" style="left:440.14px;top:367.00px;width:90.93px;height:11.00px;line-height:11.00px"><span>-2.2</span></div>
<div class="t r n" style="left:531.07px;top:367.00px;width:115.03px;height:11.00px;line-height:11.00px"><span>-10.9</span></div>
<div class="t c cj" style="left:46.55px;top:378.00px;width:67.01px;height:11.00px;line-height:11.00px"><span>印度</span></div>
<div class="t r n" style="left:113.56px;top:378.00px;width:42.32px;height:11.00px;line-height:11.00px"><span>134.8</span></div>
<div class="t r n" style="left:155.88px;top:378.00px;width:42.67px;height:11.00px;line-height:11.00px"><span>81.5</span></div>
<div class="t r n" style="left:198.55px;top:378.00px;width:42.00px;height:11.00px;line-height:11.00px"><span>23.9</span></div>
<div class="t r n" style="left:240.55px;top:378.00px;width:42.07px;height:11.00px;line-height:11.00px"><span>50.6</span></div>
<div class="t c n" style="left:282.62px;top:378.00px;width:79.93px;height:11.00px;line-height:11.00px"><span>30.5</span></div>
<div class="t c n" style="left:362.55px;top:378.00px;width:77.59px;height:11.00px;line-height:11.00px"><span>30.5</span></div>
<div class="t r n" style="left:440.14px;top:378.00px;width:90.93px;height:11.00px;line-height:11.00px"><span>0.0</span></div>
<div class="t r n" style="left:531.07px;top:378.00px;width:115.03px;height:11.00px;line-height:11.00px"><span>-20.1</span></div>
<div class="t c cj" style="left:46.55px;top:389.00px;width:67.01px;height:11.00px;line-height:11.00px"><span>马里</span></div>
<div class="t r n" style="left:113.56px;top:389.00px;width:42.32px;height:11.00px;line-height:11.00px"><span>15.2</span></div>
<div class="t r n" style="left:155.88px;top:389.00px;width:42.67px;height:11.00px;line-height:11.00px"><span>28.3</span></div>
<div class="t r n" style="left:198.55px;top:389.00px;width:42.00px;height:11.00px;line-height:11.00px"><span>16.3</span></div>
<div class="t r n" style="left:240.55px;top:389.00px;width:42.07px;height:11.00px;line-height:11.00px"><span>25.0</span></div>
<div class="t c n" style="left:282.62px;top:389.00px;width:79.93px;height:11.00px;line-height:11.00px"><span>22.9</span></div>
<div class="t c n" style="left:362.55px;top:389.00px;width:77.59px;height:11.00px;line-height:11.00px"><span>26.1</span></div>
<div class="t r n" style="left:440.14px;top:389.00px;width:90.93px;height:11.00px;line-height:11.00px"><span>3.2</span></div>
<div class="t r n" style="left:531.07px;top:389.00px;width:115.03px;height:11.00px;line-height:11.00px"><span>1.1</span></div>
<div class="t c cj" style="left:46.55px;top:400.00px;width:67.01px;height:11.00px;line-height:11.00px"><span>贝宁</span></div>
<div class="t r n" style="left:113.56px;top:400.00px;width:42.32px;height:11.00px;line-height:11.00px"><span>34.2</span></div>
<div class="t r n" style="left:155.88px;top:400.00px;width:42.67px;height:11.00px;line-height:11.00px"><span>38.8</span></div>
<div class="t r n" style="left:198.55px;top:400.00px;width:42.00px;height:11.00px;line-height:11.00px"><span>23.9</span></div>
<div class="t r n" style="left:240.55px;top:400.00px;width:42.07px;height:11.00px;line-height:11.00px"><span>22.9</span></div>
<div class="t c n" style="left:282.62px;top:400.00px;width:79.93px;height:11.00px;line-height:11.00px"><span>26.1</span></div>
<div class="t c n" style="left:362.55px;top:400.00px;width:77.59px;height:11.00px;line-height:11.00px"><span>25</span></div>
<div class="t r n" style="left:440.14px;top:400.00px;width:90.93px;height:11.00px;line-height:11.00px"><span>-1.1</span></div>
<div class="t r n" style="left:531.07px;top:400.00px;width:115.03px;height:11.00px;line-height:11.00px"><span>2.1</span></div>
<div class="t c cj" style="left:46.55px;top:411.00px;width:67.01px;height:11.00px;line-height:11.00px"><span>希腊</span></div>
<div class="t r n" style="left:113.56px;top:411.00px;width:42.32px;height:11.00px;line-height:11.00px"><span>35.5</span></div>
<div class="t r n" style="left:155.88px;top:411.00px;width:42.67px;height:11.00px;line-height:11.00px"><span>31.1</span></div>
<div class="t r n" style="left:198.55px;top:411.00px;width:42.00px;height:11.00px;line-height:11.00px"><span>29.0</span></div>
<div class="t r n" style="left:240.55px;top:411.00px;width:42.07px;height:11.00px;line-height:11.00px"><span>19.6</span></div>
<div class="t c n" style="left:282.62px;top:411.00px;width:79.93px;height:11.00px;line-height:11.00px"><span>21.8</span></div>
<div class="t c n" style="left:362.55px;top:411.00px;width:77.59px;height:11.00px;line-height:11.00px"><span>22.3</span></div>
<div class="t r n" style="left:440.14px;top:411.00px;width:90.93px;height:11.00px;line-height:11.00px"><span>0.5</span></div>
<div class="t r n" style="left:531.07px;top:411.00px;width:115.03px;height:11.00px;line-height:11.00px"><span>2.7</span></div>
<div class="t c cj" style="left:46.55px;top:422.00px;width:67.01px;height:11.00px;line-height:11.00px"><span>其他</span></div>
<div class="t r n" style="left:113.56px;top:422.00px;width:42.32px;height:11.00px;line-height:11.00px"><span>216.9</span></div>
<div class="t r n" style="left:155.88px;top:422.00px;width:42.67px;height:11.00px;line-height:11.00px"><span>202.9</span></div>
<div class="t r n" style="left:198.55px;top:422.00px;width:42.00px;height:11.00px;line-height:11.00px"><span>157.1</span></div>
<div class="t r n" style="left:240.55px;top:422.00px;width:42.07px;height:11.00px;line-height:11.00px"><span>205.6</span></div>
<div class="t c n" style="left:282.62px;top:422.00px;width:79.93px;height:11.00px;line-height:11.00px"><span>188.5</span></div>
<div class="t c n" style="left:362.55px;top:422.00px;width:77.59px;height:11.00px;line-height:11.00px"><span>184.1</span></div>
<div class="t r n" style="left:440.14px;top:422.00px;width:90.93px;height:11.00px;line-height:11.00px"><span>-4.4</span></div>
<div class="t r n" style="left:531.07px;top:422.00px;width:115.03px;height:11.00px;line-height:11.00px"><span>-21.5</span></div>
<div class="t c cj" style="left:46.55px;top:433.00px;width:67.01px;height:11.00px;line-height:11.00px"><span>合计</span></div>
<div class="t r n" style="left:113.56px;top:433.00px;width:42.32px;height:11.00px;line-height:11.00px"><span>1066.8</span></div>
<div class="t r n" style="left:155.88px;top:433.00px;width:42.67px;height:11.00px;line-height:11.00px"><span>943.8</span></div>
<div class="t r n" style="left:198.55px;top:433.00px;width:42.00px;height:11.00px;line-height:11.00px"><span>807.9</span></div>
<div class="t r n" style="left:240.55px;top:433.00px;width:42.07px;height:11.00px;line-height:11.00px"><span>973.9</span></div>
<div class="t c n" style="left:282.62px;top:433.00px;width:79.93px;height:11.00px;line-height:11.00px"><span>929.8</span></div>
<div class="t c n" style="left:362.55px;top:433.00px;width:77.59px;height:11.00px;line-height:11.00px"><span>921.7</span></div>
<div class="t r n" style="left:440.14px;top:433.00px;width:90.93px;height:11.00px;line-height:11.00px"><span>-8.1</span></div>
<div class="t r n" style="left:531.07px;top:433.00px;width:115.03px;height:11.00px;line-height:11.00px"><span>-52.2</span></div>
<div class="t h c sec" style="left:4.10px;top:444.91px;width:42.45px;height:100.49px;line-height:100.49px"><span>期末库存</span></div>
<div class="t c cj" style="left:46.55px;top:445.00px;width:67.01px;height:11.00px;line-height:11.00px"><span>中国</span></div>
<div class="t r n" style="left:113.56px;top:445.00px;width:42.32px;height:11.00px;line-height:11.00px"><span>810.6</span></div>
<div class="t r n" style="left:155.88px;top:445.00px;width:42.67px;height:11.00px;line-height:11.00px"><span>826.1</span></div>
<div class="t r n" style="left:198.55px;top:445.00px;width:42.00px;height:11.00px;line-height:11.00px"><span>811.7</span></div>
<div class="t r n" style="left:240.55px;top:445.00px;width:42.07px;height:11.00px;line-height:11.00px"><span>819.3</span></div>
<div class="t c n" style="left:282.62px;top:445.00px;width:79.93px;height:11.00px;line-height:11.00px"><span>820.2</span></div>
<div class="t c n" style="left:362.55px;top:445.00px;width:77.59px;height:11.00px;line-height:11.00px"><span>830</span></div>
<div class="t r n" style="left:440.14px;top:445.00px;width:90.93px;height:11.00px;line-height:11.00px"><span>9.8</span></div>
<div class="t r n" style="left:531.07px;top:445.00px;width:115.03px;height:11.00px;line-height:11.00px"><span>10.7</span></div>
<div class="t c cj" style="left:46.55px;top:456.00px;width:67.01px;height:11.00px;line-height:11.00px"><span>印度</span></div>
<div class="t r n" style="left:113.56px;top:456.00px;width:42.32px;height:11.00px;line-height:11.00px"><span>257.8</span></div>
<div class="t r n" style="left:155.88px;top:456.00px;width:42.67px;height:11.00px;line-height:11.00px"><span>182.8</span></div>
<div class="t r n" style="left:198.55px;top:456.00px;width:42.00px;height:11.00px;line-height:11.00px"><span>246.6</span></div>
<div class="t r n" style="left:240.55px;top:456.00px;width:42.07px;height:11.00px;line-height:11.00px"><span>230.2</span></div>
<div class="t c n" style="left:282.62px;top:456.00px;width:79.93px;height:11.00px;line-height:11.00px"><span>217.7</span></div>
<div class="t c n" style="left:362.55px;top:456.00px;width:77.59px;height:11.00px;line-height:11.00px"><span>217.7</span></div>
<div class="t r n" style="left:440.14px;top:456.00px;width:90.93px;height:11.00px;line-height:11.00px"><span>0.0</span></div>
<div class="t r n" style="left:531.07px;top:456.00px;width:115.03px;height:11.00px;line-height:11.00px"><span>-12.5</span></div>
<div class="t c cj" style="left:46.55px;top:467.00px;width:67.01px;height:11.00px;line-height:11.00px"><span>巴西</span></div>
<div class="t r n" style="left:113.56px;top:467.00px;width:42.32px;height:11.00px;line-height:11.00px"><span>41.6</span></div>
<div class="t r n" style="left:155.88px;top:467.00px;width:42.67px;height:11.00px;line-height:11.00px"><span>44.6</span></div>
<div class="t r n" style="left:198.55px;top:467.00px;width:42.00px;height:11.00px;line-height:11.00px"><span>87.3</span></div>
<div class="t r n" style="left:240.55px;top:467.00px;width:42.07px;height:11.00px;line-height:11.00px"><span>67.7</span></div>
<div class="t c n" style="left:282.62px;top:467.00px;width:79.93px;height:11.00px;line-height:11.00px"><span>83.2</span></div>
<div class="t c n" style="left:362.55px;top:467.00px;width:77.59px;height:11.00px;line-height:11.00px"><span>108.9</span></div>
<div class="t r n" style="left:440.14px;top:467.00px;width:90.93px;height:11.00px;line-height:11.00px"><span>25.7</span></div>
<div class="t r n" style="left:531.07px;top:467.00px;width:115.03px;height:11.00px;line-height:11.00px"><span>41.2</span></div>
<div class="t c cj" style="left:46.55px;top:478.00px;width:67.01px;height:11.00px;line-height:11.00px"><span>美国</span></div>
<div class="t r n" style="left:113.56px;top:478.00px;width:42.32px;height:11.00px;line-height:11.00px"><span>79.5</span></div>
<div class="t r n" style="left:155.88px;top:478.00px;width:42.67px;height:11.00px;line-height:11.00px"><span>100.2</span></div>
<div class="t r n" style="left:198.55px;top:478.00px;width:42.00px;height:11.00px;line-height:11.00px"><span>101.2</span></div>
<div class="t r n" style="left:240.55px;top:478.00px;width:42.07px;height:11.00px;line-height:11.00px"><span>68.6</span></div>
<div class="t c n" style="left:282.62px;top:478.00px;width:79.93px;height:11.00px;line-height:11.00px"><span>106.7</span></div>
<div class="t c n" style="left:362.55px;top:478.00px;width:77.59px;height:11.00px;line-height:11.00px"><span>97.6</span></div>
<div class="t r n" style="left:440.14px;top:478.00px;width:90.93px;height:11.00px;line-height:11.00px"><span>-9.1</span></div>
<div class="t r n" style="left:531.07px;top:478.00px;width:115.03px;height:11.00px;line-height:11.00px"><span>29.0</span></div>
<div class="t c cj" style="left:46.55px;top:489.00px;width:67.01px;height:11.00px;line-height:11.00px"><span>澳大利亚</span></div>
<div class="t r n" style="left:113.56px;top:489.00px;width:42.32px;height:11.00px;line-height:11.00px"><span>54.6</span></div>
<div class="t r n" style="left:155.88px;top:489.00px;width:42.67px;height:11.00px;line-height:11.00px"><span>108.3</span></div>
<div class="t r n" style="left:198.55px;top:489.00px;width:42.00px;height:11.00px;line-height:11.00px"><span>104.1</span></div>
<div class="t r n" style="left:240.55px;top:489.00px;width:42.07px;height:11.00px;line-height:11.00px"><span>91.5</span></div>
<div class="t c n" style="left:282.62px;top:489.00px;width:79.93px;height:11.00px;line-height:11.00px"><span>95.5</span></div>
<div class="t c n" style="left:362.55px;top:489.00px;width:77.59px;height:11.00px;line-height:11.00px"><span>85.4</span></div>
<div class="t r n" style="left:440.14px;top:489.00px;width:90.93px;height:11.00px;line-height:11.00px"><span>-10.1</span></div>
<div class="t r n" style="left:531.07px;top:489.00px;width:115.03px;height:11.00px;line-height:11.00px"><span>-6.1</span></div>
<div class="t c cj" style="left:46.55px;top:500.00px;width:67.01px;height:11.00px;line-height:11.00px"><span>阿根廷</span></div>
<div class="t r n" style="left:113.56px;top:500.00px;width:42.32px;height:11.00px;line-height:11.00px"><span>32.4</span></div>
<div class="t r n" style="left:155.88px;top:500.00px;width:42.67px;height:11.00px;line-height:11.00px"><span>33.9</span></div>
<div class="t r n" style="left:198.55px;top:500.00px;width:42.00px;height:11.00px;line-height:11.00px"><span>40.0</span></div>
<div class="t r n" style="left:240.55px;top:500.00px;width:42.07px;height:11.00px;line-height:11.00px"><span>44.9</span></div>
<div class="t c n" style="left:282.62px;top:500.00px;width:79.93px;height:11.00px;line-height:11.00px"><span>52.4</span></div>
<div class="t c n" style="left:362.55px;top:500.00px;width:77.59px;height:11.00px;line-height:11.00px"><span>49.6</span></div>
<div class="t r n" style="left:440.14px;top:500.00px;width:90.93px;height:11.00px;line-height:11.00px"><span>-2.8</span></div>
<div class="t r n" style="left:531.07px;top:500.00px;width:115.03px;height:11.00px;line-height:11.00px"><span>4.7</span></div>
<div class="t c cj" style="left:46.55px;top:511.00px;width:67.01px;height:11.00px;line-height:11.00px"><span>巴基斯坦</span></div>
<div class="t r n" style="left:113.56px;top:511.00px;width:42.32px;height:11.00px;line-height:11.00px"><span>47.4</span></div>
<div class="t r n" style="left:155.88px;top:511.00px;width:42.67px;height:11.00px;line-height:11.00px"><span>41.9</span></div>
<div class="t r n" style="left:198.55px;top:511.00px;width:42.00px;height:11.00px;line-height:11.00px"><span>33.2</span></div>
<div class="t r n" style="left:240.55px;top:511.00px;width:42.07px;height:11.00px;line-height:11.00px"><span>35.9</span></div>
<div class="t c n" style="left:282.62px;top:511.00px;width:79.93px;height:11.00px;line-height:11.00px"><span>43.5</span></div>
<div class="t c n" style="left:362.55px;top:511.00px;width:77.59px;height:11.00px;line-height:11.00px"><span>43.5</span></div>
<div class="t r n" style="left:440.14px;top:511.00px;width:90.93px;height:11.00px;line-height:11.00px"><span>0.0</span></div>
<div class="t r n" style="left:531.07px;top:511.00px;width:115.03px;height:11.00px;line-height:11.00px"><span>7.6</span></div>
<div class="t c cj" style="left:46.55px;top:522.00px;width:67.01px;height:11.00px;line-height:11.00px"><span>其他</span></div>
<div class="t r n" style="left:113.56px;top:522.00px;width:42.32px;height:11.00px;line-height:11.00px"><span>337.4</span></div>
<div class="t r n" style="left:155.88px;top:522.00px;width:42.67px;height:11.00px;line-height:11.00px"><span>300.0</span></div>
<div class="t r n" style="left:198.55px;top:522.00px;width:42.00px;height:11.00px;line-height:11.00px"><span>341.1</span></div>
<div class="t r n" style="left:240.55px;top:522.00px;width:42.07px;height:11.00px;line-height:11.00px"><span>291.6</span></div>
<div class="t c n" style="left:282.62px;top:522.00px;width:79.93px;height:11.00px;line-height:11.00px"><span>280.4</span></div>
<div class="t c n" style="left:362.55px;top:522.00px;width:77.59px;height:11.00px;line-height:11.00px"><span>284.3</span></div>
<div class="t r n" style="left:440.14px;top:522.00px;width:90.93px;height:11.00px;line-height:11.00px"><span>3.9</span></div>
<div class="t r n" style="left:531.07px;top:522.00px;width:115.03px;height:11.00px;line-height:11.00px"><span>-7.3</span></div>
<div class="t c cj" style="left:46.55px;top:534.00px;width:67.01px;height:11.00px;line-height:11.00px"><span>合计</span></div>
<div class="t r n" style="left:113.56px;top:534.00px;width:42.32px;height:11.00px;line-height:11.00px"><span>1654.9</span></div>
<div class="t r n" style="left:155.88px;top:534.00px;width:42.67px;height:11.00px;line-height:11.00px"><span>1625.9</span></div>
<div class="t r n" style="left:198.55px;top:534.00px;width:42.00px;height:11.00px;line-height:11.00px"><span>1756.4</span></div>
<div class="t r n" style="left:240.55px;top:534.00px;width:42.07px;height:11.00px;line-height:11.00px"><span>1649.8</span></div>
<div class="t c n" style="left:282.62px;top:534.00px;width:79.93px;height:11.00px;line-height:11.00px"><span>1705.5</span></div>
<div class="t c n" style="left:362.55px;top:534.00px;width:77.59px;height:11.00px;line-height:11.00px"><span>1717</span></div>
<div class="t r n" style="left:440.14px;top:534.00px;width:90.93px;height:11.00px;line-height:11.00px"><span>11.5</span></div>
<div class="t r n" style="left:531.07px;top:534.00px;width:115.03px;height:11.00px;line-height:11.00px"><span>67.2</span></div>
<div class="t h c" style="left:4.10px;top:545.00px;width:109.46px;height:11.00px;line-height:11.00px"><span>库存消费比</span></div>
<div class="t r n p" style="left:113.56px;top:545.00px;width:42.32px;height:11.00px;line-height:11.00px"><span>61.2%</span></div>
<div class="t r n p" style="left:155.88px;top:545.00px;width:42.67px;height:11.00px;line-height:11.00px"><span>64.4%</span></div>
<div class="t r n p" style="left:198.55px;top:545.00px;width:42.00px;height:11.00px;line-height:11.00px"><span>72.2%</span></div>
<div class="t r n p" style="left:240.55px;top:545.00px;width:42.07px;height:11.00px;line-height:11.00px"><span>67.4%</span></div>
<div class="t c n" style="left:282.62px;top:545.00px;width:79.93px;height:11.00px;line-height:11.00px"><span>67.2%</span></div>
<div class="t c n" style="left:362.55px;top:545.00px;width:77.59px;height:11.00px;line-height:11.00px"><span>68.0%</span></div>
<div class="t r n" style="left:440.14px;top:545.00px;width:90.93px;height:11.00px;line-height:11.00px"><span>0.0</span></div>
<div class="t r n" style="left:531.07px;top:545.00px;width:115.03px;height:11.00px;line-height:11.00px"><span>0.0</span></div>
<div id="foot"><span class="s " style="left:478.5px">数据来源：</span><span class="s l" style="left:548px">USDA</span><span class="s " style="left:578.3px">、</span><span class="s " style="left:591px">国元期货</span></div>
</div></body></html>
